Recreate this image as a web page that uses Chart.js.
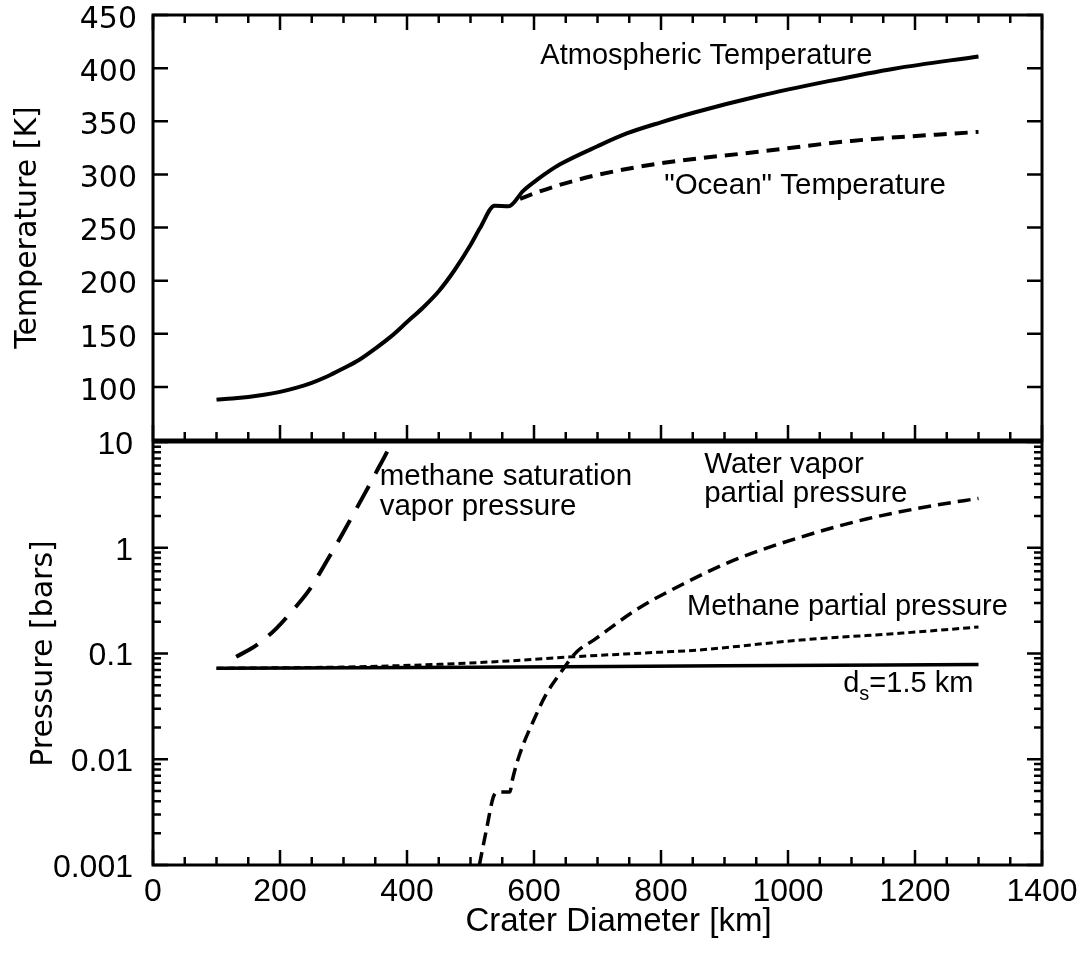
<!DOCTYPE html>
<html>
<head>
<meta charset="utf-8">
<script src="https://cdn.jsdelivr.net/npm/chart.js@4.4.1/dist/chart.umd.min.js"></script>
<style>
  html, body { margin: 0; padding: 0; background: #fff; }
  #wrap { position: relative; width: 1085px; height: 954px; }
  #wrap canvas { position: absolute; left: 0; top: 0; }
</style>
</head>
<body>
<div id="wrap">
  <canvas id="tempChart" width="1085" height="954"></canvas>
  <canvas id="pressChart" width="1085" height="954"></canvas>
</div>
<script>
// top panel: temperature [K] vs crater diameter [km]
var atmDiam = [100, 125, 150, 175, 200, 225, 250, 275, 300, 325, 350, 375, 400, 425, 450, 475, 500, 515, 538, 560, 583, 605, 625, 641, 700, 746, 800, 851, 956, 1062, 1167, 1300];
var atmTemp = [88, 89, 90.5, 92.5, 95.3, 99, 103.8, 110, 117.5, 125.5, 136, 147.5, 161, 174.5, 190, 210, 233.5, 249.5, 270.5, 270, 284.5, 295, 303.5, 309.5, 326.5, 338.5, 349, 358, 374, 387.5, 399.5, 411];
var oceanDiam = [578, 600, 640, 700, 800, 950, 1100, 1300];
var oceanTemp = [277, 282, 290, 299.5, 310.5, 321, 331.5, 340];

// bottom panel: pressure [bars] vs crater diameter [km]
var dsDiam = [100, 500, 900, 1300];
var dsPress = [0.0725, 0.074, 0.0765, 0.0785];
var ch4Diam = [100, 300, 450, 560, 660, 800, 860, 1020, 1180, 1300];
var ch4Press = [0.0725, 0.0745, 0.079, 0.085, 0.093, 0.103, 0.108, 0.134, 0.156, 0.178];
var h2oDiam = [514, 526, 536, 544, 562, 566, 578, 602, 620, 641, 667, 694, 712, 759, 836, 914, 1020, 1125, 1230, 1300];
var h2oPress = [0.001, 0.0023, 0.0044, 0.0049, 0.0049, 0.0064, 0.0114, 0.0252, 0.042, 0.0647, 0.1035, 0.134, 0.16, 0.255, 0.458, 0.76, 1.26, 1.88, 2.51, 2.93];
var satDiam = [131, 163, 194, 221, 247, 265, 284, 300, 318, 336, 352, 368, 376];
var satPress = [0.093, 0.12, 0.172, 0.26, 0.407, 0.61, 0.955, 1.41, 2.21, 3.47, 5.25, 7.94, 10];

// axes
var xMajor = [0, 200, 400, 600, 800, 1000, 1200, 1400];
var tempTicks = [100, 150, 200, 250, 300, 350, 400, 450];
var pressTicks = [0.001, 0.01, 0.1, 1, 10];

var xMinor = [];
for (var v = 50; v < 1400; v += 50) if (v % 200) xMinor.push(v);
var pressMinor = [];
pressTicks.slice(0, 4).forEach(function(d) {
  for (var k = 2; k <= 9; k++) pressMinor.push(d * k);
});

var SANS = '"Liberation Sans", Arial, Helvetica, sans-serif';
var WIDE = '"DejaVu Sans", Verdana, sans-serif';
Chart.defaults.font.family = SANS;
Chart.defaults.color = '#000';

function pts(xs, ys) {
  return xs.map(function(x, i) { return {x: x, y: ys[i]}; });
}

function line(xs, ys, width, dash) {
  return {
    data: pts(xs, ys),
    borderColor: '#000',
    borderWidth: width,
    borderDash: dash || [],
    pointRadius: 0,
    fill: false,
    cubicInterpolationMode: 'monotone',
    borderCapStyle: 'butt',
    borderJoinStyle: 'round'
  };
}

// frame + inward ticks
var frameTicks = {
  id: 'frameTicks',
  afterDraw: function(chart, args, o) {
    var ctx = chart.ctx, a = chart.chartArea;
    var xs = chart.scales.x, ys = chart.scales.y;
    ctx.save();
    ctx.strokeStyle = '#000';
    ctx.lineWidth = 2.5;
    ctx.beginPath();
    function xt(list, len) {
      list.forEach(function(v) {
        var p = xs.getPixelForValue(v);
        if (o.sides.indexOf('bottom') >= 0) { ctx.moveTo(p, a.bottom); ctx.lineTo(p, a.bottom - len); }
        if (o.sides.indexOf('top') >= 0) { ctx.moveTo(p, a.top); ctx.lineTo(p, a.top + len); }
      });
    }
    function yt(list, len) {
      list.forEach(function(v) {
        var p = ys.getPixelForValue(v);
        ctx.moveTo(a.left, p); ctx.lineTo(a.left + len, p);
        ctx.moveTo(a.right, p); ctx.lineTo(a.right - len, p);
      });
    }
    xt(o.xMajor, 15); xt(o.xMinor, 8);
    yt(o.yMajor, 15); yt(o.yMinor, 8);
    ctx.stroke();
    ctx.lineWidth = 3;
    ctx.strokeRect(a.left, a.top, a.right - a.left, a.bottom - a.top);
    ctx.restore();
  }
};

// text labels placed in data coordinates
var notes = {
  id: 'notes',
  afterDraw: function(chart, args, o) {
    var ctx = chart.ctx, xs = chart.scales.x, ys = chart.scales.y;
    ctx.save();
    ctx.fillStyle = '#000';
    ctx.textBaseline = 'alphabetic';
    ctx.textAlign = 'left';
    o.items.forEach(function(t) {
      var x = xs.getPixelForValue(t.x), y = ys.getPixelForValue(t.y);
      ctx.font = t.size + 'px ' + SANS;
      ctx.fillText(t.text, x, y);
      if (t.sub) {
        x += ctx.measureText(t.text).width;
        ctx.font = t.subSize + 'px ' + SANS;
        ctx.fillText(t.sub, x, y + 8);
        x += ctx.measureText(t.sub).width;
        ctx.font = t.size + 'px ' + SANS;
        ctx.fillText(t.rest, x, y);
      }
    });
    if (o.xTitle) {
      var a = chart.chartArea;
      ctx.font = '33px ' + SANS;
      ctx.textAlign = 'center';
      ctx.textBaseline = 'middle';
      ctx.fillText(o.xTitle, (a.left + a.right) / 2 + 21, a.bottom + 57);
    }
    ctx.restore();
  }
};

var W = 1085, H = 954, LEFT = 153, RIGHT = 43;
var TOP_BOTTOM = 440, BOT_TOP = 442, BOT_BOTTOM = 865;

function fixWidth(s) {
  s.width = LEFT;
  s.paddingTop = 0;
  s.paddingBottom = 0;
}

new Chart(document.getElementById('tempChart'), {
  type: 'line',
  data: {
    datasets: [
      line(atmDiam, atmTemp, 4),
      line(oceanDiam, oceanTemp, 4, [13, 8])
    ]
  },
  options: {
    responsive: false,
    animation: false,
    devicePixelRatio: 1,
    events: [],
    layout: { padding: { top: 15, right: RIGHT, bottom: 0, left: 0 } },
    plugins: {
      legend: { display: false },
      tooltip: { enabled: false },
      frameTicks: { sides: ['top', 'bottom'], xMajor: xMajor, xMinor: xMinor, yMajor: tempTicks, yMinor: [] },
      notes: {
        items: [
          { text: 'Atmospheric Temperature', x: 610, y: 404, size: 29 },
          { text: '"Ocean" Temperature', x: 805, y: 282, size: 29.5 }
        ]
      }
    },
    scales: {
      x: {
        type: 'linear', min: 0, max: 1400,
        grid: { display: false }, border: { display: false },
        ticks: { display: false },
        afterFit: function(s) { s.height = H - TOP_BOTTOM; s.paddingLeft = 0; s.paddingRight = 0; }
      },
      y: {
        type: 'linear', min: 50, max: 450,
        grid: { display: false }, border: { display: false },
        afterBuildTicks: function(s) { s.ticks = tempTicks.map(function(v) { return {value: v}; }); },
        ticks: { font: { size: 30, family: WIDE }, padding: 8, labelOffset: 5, autoSkip: false },
        title: { display: true, text: 'Temperature [K]', font: { size: 30, family: WIDE }, padding: { top: 10 } },
        afterFit: fixWidth
      }
    }
  },
  plugins: [frameTicks, notes]
});

new Chart(document.getElementById('pressChart'), {
  type: 'line',
  data: {
    datasets: [
      line(dsDiam, dsPress, 3.5),
      line(ch4Diam, ch4Press, 3, [7, 4]),
      line(h2oDiam, h2oPress, 3.5, [13, 7]),
      line(satDiam, satPress, 4, [25, 14])
    ]
  },
  options: {
    responsive: false,
    animation: false,
    devicePixelRatio: 1,
    events: [],
    layout: { padding: { top: BOT_TOP, right: RIGHT, bottom: 0, left: 0 } },
    plugins: {
      legend: { display: false },
      tooltip: { enabled: false },
      frameTicks: { sides: ['bottom'], xMajor: xMajor, xMinor: xMinor, yMajor: pressTicks, yMinor: pressMinor },
      notes: {
        items: [
          { text: 'methane saturation', x: 357, y: 3.92, size: 29.5 },
          { text: 'vapor pressure', x: 357, y: 2.04, size: 29.5 },
          { text: 'Water vapor', x: 868, y: 5.09, size: 29.5 },
          { text: 'partial pressure', x: 868, y: 2.71, size: 29.5 },
          { text: 'Methane partial pressure', x: 841, y: 0.231, size: 29 },
          { text: 'd', sub: 's', rest: '=1.5 km', x: 1087, y: 0.0433, size: 29, subSize: 20 }
        ],
        xTitle: 'Crater Diameter [km]'
      }
    },
    scales: {
      x: {
        type: 'linear', min: 0, max: 1400,
        grid: { display: false }, border: { display: false },
        afterBuildTicks: function(s) { s.ticks = xMajor.map(function(v) { return {value: v}; }); },
        ticks: { font: { size: 32 }, padding: 0, autoSkip: false, maxRotation: 0, callback: function(v) { return String(v); } },
        afterFit: function(s) { s.height = H - BOT_BOTTOM; s.paddingLeft = 0; s.paddingRight = 0; }
      },
      y: {
        type: 'logarithmic', min: 0.001, max: 10,
        grid: { display: false }, border: { display: false },
        afterBuildTicks: function(s) { s.ticks = pressTicks.map(function(v) { return {value: v}; }); },
        ticks: { font: { size: 32 }, padding: 12, labelOffset: 3, autoSkip: false, callback: function(v) { return String(v); } },
        title: { display: true, text: 'Pressure [bars]', font: { size: 30, family: WIDE }, padding: { top: 26 } },
        afterFit: fixWidth
      }
    }
  },
  plugins: [frameTicks, notes]
});
</script>
</body>
</html>
